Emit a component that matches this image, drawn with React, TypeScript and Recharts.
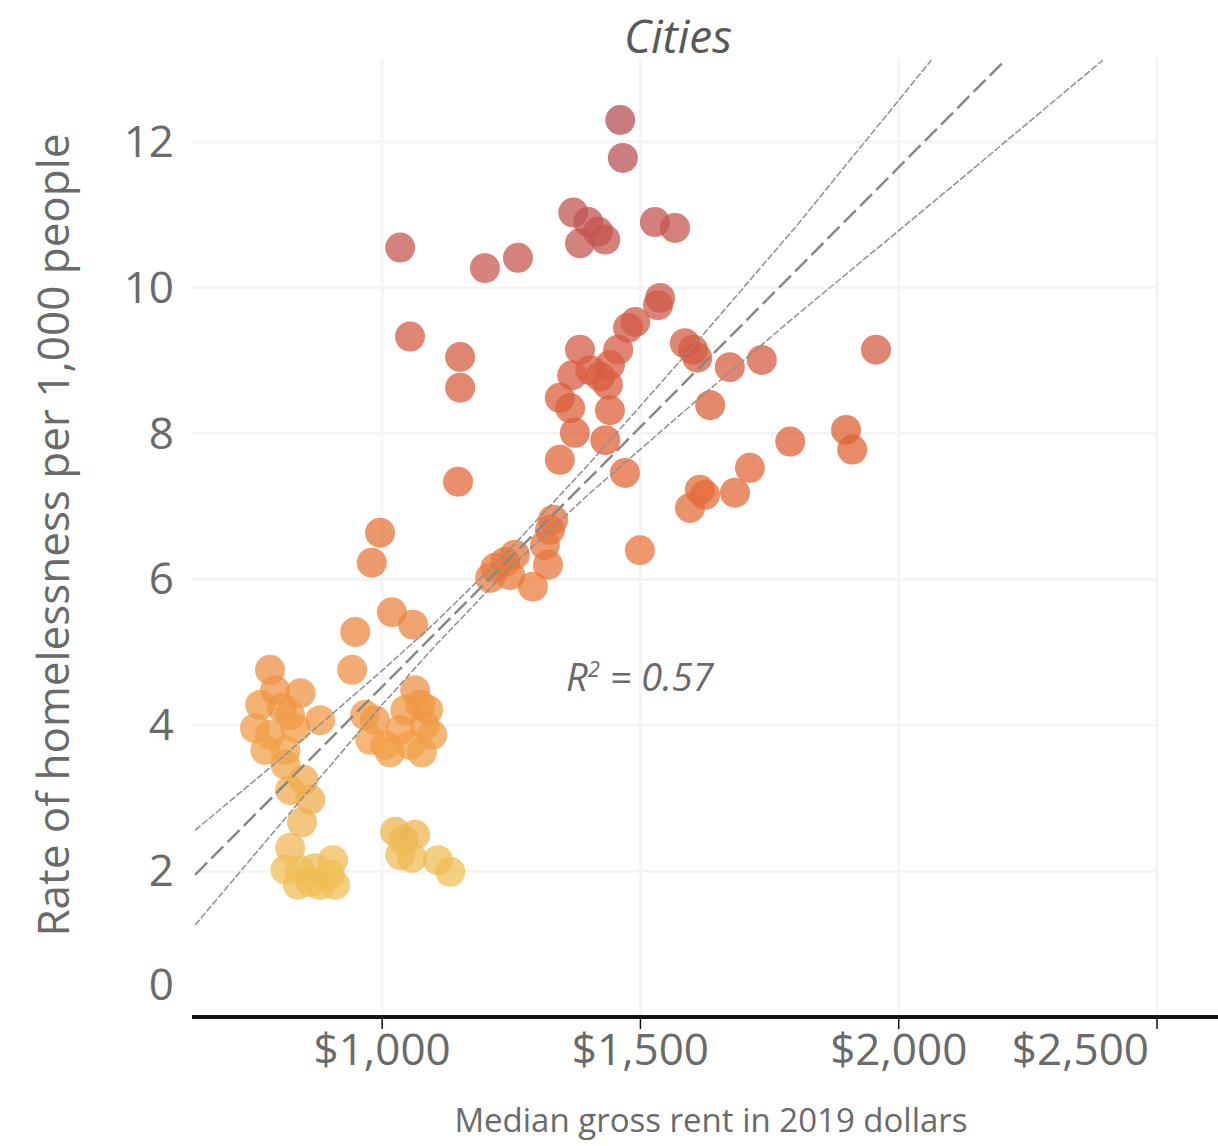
import React from "react";
import { ScatterChart, Scatter, XAxis, YAxis, ReferenceLine } from "recharts";

// median gross rent ($) and homelessness rate per 1,000 for each city
const rent = [
  1461, 1466, 1370, 1399, 1383, 1418, 1432, 1528, 1567, 1035,
  1199, 1263, 1054, 1151, 1151, 1147, 996, 980, 1538, 1534,
  1476, 1490, 1457, 1383, 1586, 1602, 1610, 1368, 1403, 1422,
  1441, 1437, 1344, 1364, 1441, 1373, 1432, 1344, 1470, 1673,
  1735, 1956, 1635, 1790, 1898, 1910, 1712, 1683, 1615, 1625,
  1596, 1499, 1331, 1325, 1315, 1321, 1292, 1219, 1238, 1257,
  1248, 1209, 1019, 1060, 948, 942, 783, 793, 842, 806,
  822, 754, 783, 832, 880, 774, 967, 986, 977, 1006,
  1015, 1054, 1064, 1074, 1083, 1035, 1089, 1097, 1077, 1045,
  813, 822, 848, 861, 845, 822, 841, 837, 861, 880,
  905, 909, 1025, 1041, 1064, 1035, 1058, 1108, 1132, 813,
  870, 899, 764, 813,
];
const rate = [
  12.3, 11.78, 11.03, 10.9, 10.61, 10.77, 10.66, 10.9, 10.82, 10.55,
  10.27, 10.41, 9.33, 9.05, 8.63, 7.34, 6.64, 6.23, 9.86, 9.76,
  9.45, 9.53, 9.15, 9.15, 9.24, 9.15, 9.04, 8.8, 8.87, 8.78,
  8.94, 8.67, 8.49, 8.35, 8.32, 8.01, 7.91, 7.64, 7.46, 8.91,
  9.01, 9.15, 8.39, 7.89, 8.05, 7.78, 7.53, 7.19, 7.23, 7.16,
  6.98, 6.4, 6.82, 6.68, 6.47, 6.2, 5.9, 6.16, 6.24, 6.34,
  6.06, 6.02, 5.55, 5.38, 5.28, 4.76, 4.76, 4.48, 4.44, 4.24,
  4.14, 3.96, 3.87, 3.96, 4.07, 3.66, 4.14, 4.07, 3.8, 3.73,
  3.63, 3.73, 4.48, 4.28, 4.0, 3.94, 4.21, 3.87, 3.63, 4.21,
  3.46, 3.11, 3.25, 2.98, 2.67, 2.32, 2.02, 1.81, 1.85, 1.81,
  2.15, 1.81, 2.54, 2.43, 2.5, 2.22, 2.18, 2.15, 1.99, 2.02,
  2.04, 1.95, 4.28, 3.66,
];

// fitted line and its confidence band
const fitRent = [638, 2206];
const fitRate = [1.95, 13.12];
const upperRent = [638, 800, 1000, 1100, 1240, 1400, 1600, 1800, 2063];
const upperRate = [2.56, 3.52, 4.75, 5.39, 6.36, 7.58, 9.18, 10.83, 13.12];
const lowerRent = [638, 800, 1000, 1100, 1240, 1400, 1600, 1800, 2100, 2395];
const lowerRate = [1.26, 2.62, 4.28, 5.07, 6.11, 7.17, 8.4, 9.61, 11.37, 13.12];

const xTicks = [1000, 1500, 2000, 2500];
const yTicks = [0, 2, 4, 6, 8, 10, 12];

const zip = (xs: number[], ys: number[]) => xs.map((x, i) => ({ x, y: ys[i] }));
const cities = zip(rent, rate);
const fit = zip(fitRent, fitRate);
const upper = zip(upperRent, upperRate);
const lower = zip(lowerRent, lowerRate);

const FONT = "'Open Sans', sans-serif";
const GREY = "#6a6a6a";
const GRID = "#f4f4f4";

const STOPS: [number, number[]][] = [
  [2, [239, 190, 85]],
  [4, [240, 154, 69]],
  [6, [233, 122, 60]],
  [8, [223, 95, 52]],
  [10, [204, 88, 76]],
  [12, [180, 80, 82]],
];

function colorFor(v: number) {
  if (v <= STOPS[0][0]) return `rgb(${STOPS[0][1].join(",")})`;
  for (let i = 1; i < STOPS.length; i++) {
    const [v1, c1] = STOPS[i];
    const [v0, c0] = STOPS[i - 1];
    if (v <= v1) {
      const t = (v - v0) / (v1 - v0);
      const c = c0.map((a, k) => Math.round(a + (c1[k] - a) * t));
      return `rgb(${c.join(",")})`;
    }
  }
  return `rgb(${STOPS[STOPS.length - 1][1].join(",")})`;
}

const Dot = (props: any) => {
  const { cx, cy, payload } = props;
  return <circle cx={cx} cy={cy} r={15} fill={colorFor(payload.y)} fillOpacity={0.74} />;
};

const XTick = (props: any) => {
  const { x, y, payload } = props;
  const last = payload.value === 2500;
  return (
    <text
      x={last ? x - 8 : x}
      y={y}
      dy={34}
      textAnchor={last ? "end" : "middle"}
      fill={GREY}
      fontSize={44}
      fontFamily={FONT}
    >
      {"$" + payload.value.toLocaleString("en-US")}
    </text>
  );
};

const YTick = (props: any) => {
  const { y, payload } = props;
  return (
    <text
      x={174}
      y={payload.value === 0 ? y - 32 : y}
      dy={15}
      textAnchor="end"
      fill={GREY}
      fontSize={44}
      fontFamily={FONT}
    >
      {payload.value}
    </text>
  );
};

const noShape = () => <g />;

export default function App() {
  return (
    <div style={{ position: "relative", width: 1218, height: 1146, background: "#fff" }}>
      <style>{"body{margin:0}"}</style>
      <ScatterChart width={1218} height={1146} margin={{ top: 58, right: 0, bottom: 0, left: 0 }}>
        <XAxis
          type="number"
          dataKey="x"
          domain={[632, 2618]}
          ticks={xTicks}
          allowDataOverflow
          height={129}
          axisLine={{ stroke: "#111", strokeWidth: 4 }}
          tickLine={{ stroke: "#111", strokeWidth: 1.5 }}
          tickSize={12}
          tick={<XTick />}
          label={{
            value: "Median gross rent in 2019 dollars",
            position: "insideBottom",
            offset: 14,
            fill: GREY,
            fontSize: 33,
            fontFamily: FONT,
            dx: 6,
          }}
        />
        <YAxis
          type="number"
          dataKey="y"
          domain={[0, 13.15]}
          ticks={yTicks}
          allowDataOverflow
          width={192}
          axisLine={false}
          tickLine={false}
          tick={<YTick />}
        />
        {xTicks.map((v) => (
          <ReferenceLine key={"vx" + v} x={v} stroke={GRID} strokeWidth={3} />
        ))}
        {yTicks.slice(1).map((v) => (
          <ReferenceLine
            key={"hy" + v}
            segment={[
              { x: 632, y: v },
              { x: 2500, y: v },
            ]}
            stroke={GRID}
            strokeWidth={3}
          />
        ))}
        <Scatter data={cities} shape={<Dot />} isAnimationActive={false} />
        <Scatter
          data={upper}
          line={{ stroke: "#8f8f8f", strokeWidth: 1.5, strokeDasharray: "7 2" }}
          lineType="joint"
          shape={noShape}
          isAnimationActive={false}
        />
        <Scatter
          data={lower}
          line={{ stroke: "#8f8f8f", strokeWidth: 1.5, strokeDasharray: "7 2" }}
          lineType="joint"
          shape={noShape}
          isAnimationActive={false}
        />
        <Scatter
          data={fit}
          line={{ stroke: "#888", strokeWidth: 2.5, strokeDasharray: "17 6" }}
          lineType="joint"
          shape={noShape}
          isAnimationActive={false}
        />
      </ScatterChart>
      <div
        style={{
          position: "absolute",
          left: 0,
          top: 8,
          width: 1356,
          textAlign: "center",
          fontFamily: FONT,
          fontStyle: "italic",
          fontSize: 46,
          lineHeight: "54px",
          color: "#585858",
        }}
      >
        Cities
      </div>
      <div
        style={{
          position: "absolute",
          left: 566,
          top: 646,
          fontFamily: FONT,
          fontStyle: "italic",
          fontSize: 38,
          lineHeight: "44px",
          color: GREY,
        }}
      >
        R<sup style={{ fontSize: 22 }}>2</sup> = 0.57
      </div>
      <div
        style={{
          position: "absolute",
          left: 52 - 450,
          top: 535 - 27,
          width: 900,
          textAlign: "center",
          transform: "rotate(-90deg)",
          fontFamily: FONT,
          fontSize: 44,
          lineHeight: "54px",
          color: GREY,
        }}
      >
        Rate of homelessness per 1,000 people
      </div>
    </div>
  );
}
